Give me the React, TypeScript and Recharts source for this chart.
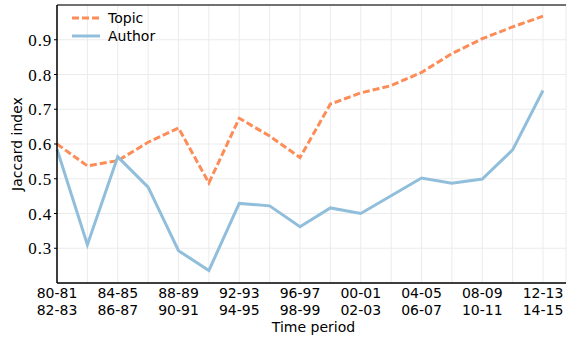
import React from 'react';
import { LineChart, Line, XAxis, YAxis, CartesianGrid, ReferenceLine } from 'recharts';

// two-year periods; each point covers a window of two consecutive periods
const periods = [
  '80-81', '82-83', '84-85', '86-87', '88-89', '90-91', '92-93', '94-95', '96-97',
  '98-99', '00-01', '02-03', '04-05', '06-07', '08-09', '10-11', '12-13', '14-15',
];
const windows = periods.slice(0, -1).map((p, i) => `${p} ${periods[i + 1]}`);

const topic = [0.6, 0.537, 0.552, 0.605, 0.646, 0.488, 0.674, 0.623, 0.561, 0.715, 0.747, 0.768, 0.806, 0.86, 0.903, 0.937, 0.968];
const author = [0.585, 0.31, 0.563, 0.476, 0.293, 0.236, 0.429, 0.422, 0.362, 0.416, 0.4, 0.451, 0.502, 0.487, 0.499, 0.583, 0.754];

const yTicks = [0.3, 0.4, 0.5, 0.6, 0.7, 0.8, 0.9];

const TOPIC_COLOR = '#fc8d59';
const AUTHOR_COLOR = '#91bfdb';
const SANS = '"DejaVu Sans", sans-serif';
const SERIF = '"Liberation Serif", serif';

const data = windows.map((w, i) => ({ period: w, topic: topic[i], author: author[i] }));

const XTick = (props: any) => {
  const { x, y, payload } = props;
  if (payload.index % 2 === 1) return null;
  const [a, b] = String(payload.value).split(' ');
  return (
    <text x={x} y={y} textAnchor="middle" fontFamily={SANS} fontSize={14} fill="#000">
      <tspan x={x} dy={15}>{a}</tspan>
      <tspan x={x} dy={17}>{b}</tspan>
    </text>
  );
};

const YTick = (props: any) => {
  const { x, y, payload } = props;
  return (
    <text x={x - 1} y={y + 6} textAnchor="end" fontFamily={SERIF} fontSize={17} letterSpacing={0.8} fill="#000">
      {Number(payload.value).toFixed(1)}
    </text>
  );
};

const App = () => {
  return (
    <div style={{ position: 'relative', width: 568, height: 337 }}>
      <style>{'body{margin:0}'}</style>
      <LineChart width={568} height={337} data={data} margin={{ top: 5, right: 2, bottom: 0, left: 0 }}>
        <CartesianGrid stroke="#ebebeb" strokeWidth={1} />
        <XAxis
          dataKey="period"
          interval={0}
          padding={{ left: 0, right: 23 }}
          height={54}
          tick={<XTick />}
          tickLine={false}
          tickSize={0}
          tickMargin={0}
          axisLine={{ stroke: '#000', strokeWidth: 1.5 }}
          label={(p: any) => {
            const vb = p.viewBox;
            return (
              <text x={vb.x + vb.width / 2 + 2} y={vb.y + 49} textAnchor="middle" fontFamily={SANS} fontSize={14} fill="#000">
                Time period
              </text>
            );
          }}
        />
        <YAxis
          domain={[0.2, 1.0]}
          ticks={yTicks}
          allowDataOverflow
          width={57}
          tickSize={3}
          tickMargin={1}
          tickLine={{ stroke: '#000' }}
          axisLine={{ stroke: '#000', strokeWidth: 1.5 }}
          tick={<YTick />}
          label={(p: any) => {
            const vb = p.viewBox;
            const cy = vb.y + vb.height / 2;
            return (
              <text x={22} y={cy} transform={`rotate(-90 22 ${cy})`} textAnchor="middle" fontFamily={SANS} fontSize={14} fill="#000">
                Jaccard index
              </text>
            );
          }}
        />
        <ReferenceLine y={1.0} stroke="#444" strokeWidth={1.5} />
        <Line
          dataKey="topic"
          type="linear"
          stroke={TOPIC_COLOR}
          strokeWidth={3}
          strokeDasharray="7 3"
          dot={false}
          isAnimationActive={false}
        />
        <Line
          dataKey="author"
          type="linear"
          stroke={AUTHOR_COLOR}
          strokeWidth={3}
          dot={false}
          isAnimationActive={false}
        />
      </LineChart>
      <div style={{ position: 'absolute', left: 71, top: 9, fontFamily: SANS, fontSize: 14, lineHeight: '18px', color: '#000' }}>
        {[
          { name: 'Topic', color: TOPIC_COLOR, dash: '7 3' },
          { name: 'Author', color: AUTHOR_COLOR, dash: undefined },
        ].map((it) => (
          <div key={it.name} style={{ display: 'flex', alignItems: 'center', height: 18 }}>
            <svg width={30} height={10} style={{ marginRight: 7 }}>
              <line x1={1} y1={5} x2={29} y2={5} stroke={it.color} strokeWidth={3} strokeDasharray={it.dash} />
            </svg>
            <span>{it.name}</span>
          </div>
        ))}
      </div>
    </div>
  );
};

export default App;
